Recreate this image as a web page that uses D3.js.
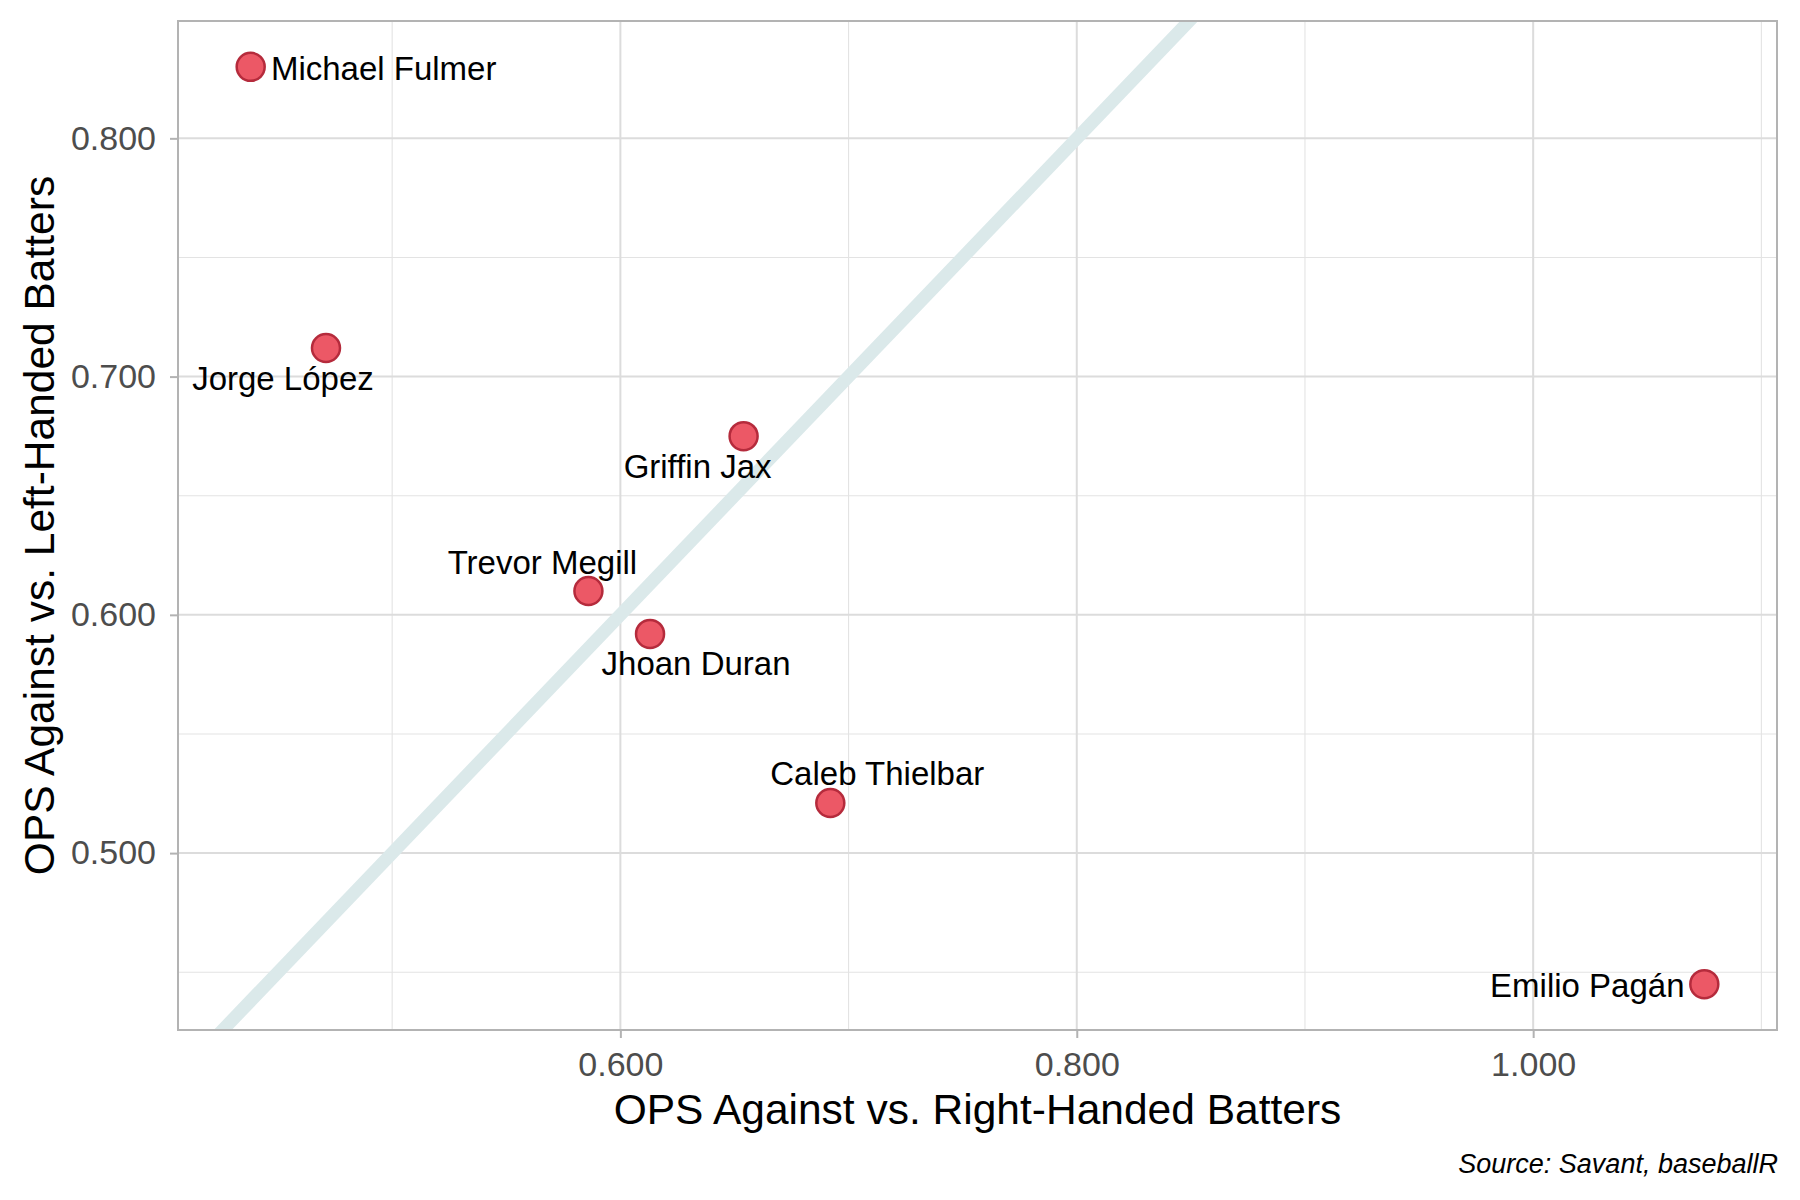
<!DOCTYPE html>
<html>
<head>
<meta charset="utf-8">
<script src="https://cdn.jsdelivr.net/npm/d3@7"></script>
<style>
  html, body { margin: 0; padding: 0; background: #ffffff; }
  svg { display: block; font-family: "Liberation Sans", Arial, Helvetica, sans-serif; }
</style>
</head>
<body>
<svg id="chart" width="1800" height="1200"></svg>
<script>
// ---- data ----
const pitchers = ["Michael Fulmer", "Jorge López", "Griffin Jax", "Trevor Megill", "Jhoan Duran", "Caleb Thielbar", "Emilio Pagán"];
const opsVsRight = [0.438, 0.471, 0.654, 0.586, 0.613, 0.692, 1.075];
const opsVsLeft  = [0.830, 0.712, 0.675, 0.610, 0.592, 0.521, 0.445];
const xTickValues = [0.6, 0.8, 1.0];
const yTickValues = [0.5, 0.6, 0.7, 0.8];
const xTitle = "OPS Against vs. Right-Handed Batters";
const yTitle = "OPS Against vs. Left-Handed Batters";
const caption = "Source: Savant, baseballR";

// label placement (pixel offsets of label centre/baseline from its point, like ggrepel output)
const labelOffsets = [[133, 13], [-43, 42], [-46, 42], [-46, -17], [46, 41], [47, -18], [-117, 13]];

// ---- layout ----
const W = 1800, H = 1200;
const margin = {left: 178, right: 23, top: 21, bottom: 170};
const pw = W - margin.left - margin.right;
const ph = H - margin.top - margin.bottom;

function expand(vals, f) {
  const lo = d3.min(vals), hi = d3.max(vals), r = hi - lo;
  return [lo - r * f, hi + r * f];
}
const x = d3.scaleLinear().domain(expand(opsVsRight, 0.05)).range([0, pw]);
const y = d3.scaleLinear().domain(expand(opsVsLeft, 0.05)).range([ph, 0]);

const svg = d3.select("#chart");
svg.append("rect").attr("width", W).attr("height", H).attr("fill", "#ffffff");

const g = svg.append("g").attr("transform", `translate(${margin.left},${margin.top})`);

svg.append("defs").append("clipPath").attr("id", "panel-clip")
  .append("rect").attr("width", pw).attr("height", ph);

// minor grid
const xMinor = [0.5, 0.7, 0.9, 1.1].filter(v => v >= x.domain()[0] && v <= x.domain()[1]);
const yMinor = [0.45, 0.55, 0.65, 0.75, 0.85].filter(v => v >= y.domain()[0] && v <= y.domain()[1]);
g.append("g").selectAll("line").data(xMinor).join("line")
  .attr("x1", d => x(d)).attr("x2", d => x(d)).attr("y1", 0).attr("y2", ph)
  .attr("stroke", "#e3e3e3").attr("stroke-width", 1.1);
g.append("g").selectAll("line").data(yMinor).join("line")
  .attr("y1", d => y(d)).attr("y2", d => y(d)).attr("x1", 0).attr("x2", pw)
  .attr("stroke", "#e3e3e3").attr("stroke-width", 1.1);
// major grid
g.append("g").selectAll("line").data(xTickValues).join("line")
  .attr("x1", d => x(d)).attr("x2", d => x(d)).attr("y1", 0).attr("y2", ph)
  .attr("stroke", "#dcdcdc").attr("stroke-width", 2);
g.append("g").selectAll("line").data(yTickValues).join("line")
  .attr("y1", d => y(d)).attr("y2", d => y(d)).attr("x1", 0).attr("x2", pw)
  .attr("stroke", "#dcdcdc").attr("stroke-width", 2);

// y = x reference line
const lo = Math.min(x.domain()[0], y.domain()[0]);
const hi = Math.max(x.domain()[1], y.domain()[1]);
g.append("g").attr("clip-path", "url(#panel-clip)")
  .append("path")
  .datum([lo, hi])
  .attr("d", d3.line().x(d => x(d)).y(d => y(d)))
  .attr("stroke", "#dbe9ea").attr("stroke-width", 13).attr("fill", "none");

// points
const data = pitchers.map((name, i) => ({name, r: opsVsRight[i], l: opsVsLeft[i], off: labelOffsets[i]}));
g.append("g").selectAll("circle").data(data).join("circle")
  .attr("cx", d => x(d.r)).attr("cy", d => y(d.l)).attr("r", 14)
  .attr("fill", "#ec5866").attr("stroke", "#b52b3c").attr("stroke-width", 2.5);

// labels
g.append("g").selectAll("text").data(data).join("text")
  .attr("x", d => x(d.r) + d.off[0]).attr("y", d => y(d.l) + d.off[1])
  .attr("text-anchor", "middle").attr("font-size", 33).attr("fill", "#000000")
  .text(d => d.name);

// panel border
g.append("rect").attr("width", pw).attr("height", ph)
  .attr("fill", "none").attr("stroke", "#b3b3b3").attr("stroke-width", 2);

// axes
const fmt = d3.format(".3f");
const xAxis = g.append("g").attr("transform", `translate(0,${ph})`)
  .call(d3.axisBottom(x).tickValues(xTickValues).tickFormat(fmt).tickSize(8).tickPadding(14));
const yAxis = g.append("g")
  .call(d3.axisLeft(y).tickValues(yTickValues).tickFormat(fmt).tickSize(8).tickPadding(14));
[xAxis, yAxis].forEach(a => {
  a.select(".domain").remove();
  a.selectAll(".tick line").attr("stroke", "#b3b3b3").attr("stroke-width", 2);
  a.selectAll(".tick text").attr("fill", "#4d4d4d").attr("font-size", 34)
    .attr("font-family", "'Liberation Sans', Arial, Helvetica, sans-serif");
});
xAxis.selectAll(".tick text").attr("dy", "0.71em");

// axis titles
svg.append("text")
  .attr("x", margin.left + pw / 2).attr("y", 1124)
  .attr("text-anchor", "middle").attr("font-size", 42.5).attr("fill", "#000")
  .text(xTitle);
svg.append("text")
  .attr("transform", `translate(54,${margin.top + ph / 2}) rotate(-90)`)
  .attr("text-anchor", "middle").attr("font-size", 42.5).attr("fill", "#000")
  .text(yTitle);

// caption
svg.append("text")
  .attr("x", 1778).attr("y", 1173)
  .attr("text-anchor", "end").attr("font-size", 27).attr("font-style", "italic").attr("fill", "#000")
  .text(caption);
</script>
</body>
</html>
